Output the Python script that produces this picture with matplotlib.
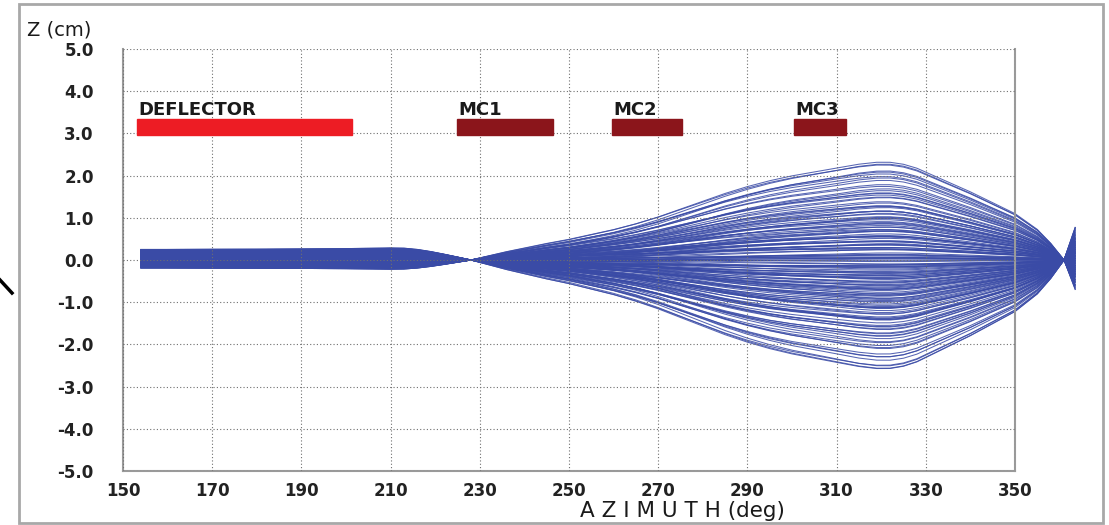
import numpy as np
import matplotlib.pyplot as plt
from matplotlib.patches import Rectangle

# azimuth stations (deg) where the orbit shapes are tabulated
azimuth = [154, 160, 170, 180, 190, 200, 205, 210, 213, 216, 219, 222, 225, 228,
           232, 236, 240, 245, 250, 255, 260, 265, 270, 275, 280, 285, 290, 295, 300,
           305, 310, 315, 319, 322, 325, 328, 330, 335, 340, 345, 350, 355, 358, 361, 363.5]

# cosine-like orbit: unit displacement inside the deflector, focused at 228 deg
cos_orbit = [1.00, 1.00, 1.02, 1.03, 1.05, 1.08, 1.11, 1.14, 1.12, 1.00, 0.80, 0.55, 0.28, 0.00,
             -0.08, -0.16, -0.23, -0.30, -0.37, -0.41, -0.45, -0.49, -0.52, -0.55, -0.57, -0.59, -0.60, -0.61, -0.61,
             -0.61, -0.61, -0.59, -0.58, -0.57, -0.55, -0.53, -0.51, -0.46, -0.41, -0.35, -0.28, -0.17, -0.08, 0.00, 0.10]

# sine-like orbit: zero through the deflector, unit at the 319 deg maximum
sin_orbit = [0, 0, 0, 0, 0, 0, 0, 0, 0, 0, 0, 0, 0, 0,
             0.04, 0.08, 0.115, 0.16, 0.20, 0.25, 0.30, 0.36, 0.43, 0.51, 0.59, 0.67, 0.74, 0.80, 0.85,
             0.89, 0.93, 0.97, 0.99, 0.99, 0.97, 0.93, 0.89, 0.79, 0.69, 0.58, 0.47, 0.31, 0.17, 0.00, -0.30]

# per-particle vertical offset in the deflector (cm)
z_defl = [0.12, -0.05, 0.21, -0.14, 0.03, 0.17, -0.10, 0.08, -0.18, 0.24,
          -0.02, 0.14, -0.12, 0.06, 0.19, -0.07, 0.01, -0.16, 0.10, 0.22,
          -0.09, 0.04, 0.16, -0.13, 0.11, -0.03, 0.20, -0.17, 0.07, -0.06,
          0.13, 0.25, -0.11, 0.02, -0.15, 0.18, 0.09, -0.08, 0.15, -0.01,
          0.23, -0.19, 0.05, -0.04, 0.12, 0.19, -0.14, 0.00, 0.08, -0.10,
          0.17, -0.06, 0.21, 0.03, -0.12, 0.11, -0.17, 0.14, -0.02, 0.06,
          -0.08, 0.24, 0.01, -0.13, 0.16, 0.09, -0.05, 0.20, -0.16, 0.04,
          0.10, -0.11, 0.18, -0.03, 0.07, -0.18, 0.13, 0.22, -0.07, 0.02,
          -0.15, 0.15, -0.01, 0.11, -0.09, 0.05, 0.19, -0.12, 0.08, -0.04,
          0.21, -0.14, 0.12, 0.00, -0.17, 0.16, 0.06, -0.06, 0.23, -0.10,
          0.03, 0.14, -0.19, 0.09, -0.02, 0.18, -0.11, 0.07, 0.25, -0.08,
          0.11, -0.15, 0.04, 0.20, -0.05, 0.13, -0.13, 0.01, 0.17, -0.16,
          0.08, -0.03, 0.22, -0.09, 0.15, 0.05, -0.12,
          -0.07, 0.19, -0.13, 0.06, 0.23, -0.16, 0.10, -0.01, 0.15, -0.11,
          0.02, 0.21, -0.18, 0.12, -0.06, 0.17, -0.09, 0.04, 0.24, -0.14,
          0.08, -0.03, 0.18, -0.12, 0.13, -0.17, 0.00, 0.20, -0.08, 0.05,
          0.16, -0.15, 0.09, -0.04, 0.22, -0.10, 0.11, -0.19, 0.03, 0.14]

# per-particle amplitude at the 319 deg maximum (cm)
z_amp = [2.36, 2.31, 2.25, 2.19, 2.12, 2.06, 2.00, 1.95, 1.89, 1.84,
         1.79, 1.74, 1.69, 1.64, 1.60, 1.55, 1.51, 1.46, 1.42, 1.38,
         1.34, 1.30, 1.26, 1.22, 1.18, 1.15, 1.11, 1.07, 1.04, 1.00,
         0.97, 0.93, 0.90, 0.87, 0.83, 0.80, 0.77, 0.74, 0.71, 0.68,
         0.65, 0.62, 0.59, 0.56, 0.53, 0.50, 0.47, 0.44, 0.41, 0.38,
         0.35, 0.32, 0.29, 0.26, 0.23, 0.20, 0.17, 0.14, 0.11, 0.08,
         0.05, 0.02, -0.01, -0.04, -0.07, -0.10, -0.13, -0.16, -0.19, -0.22,
         -0.25, -0.28, -0.31, -0.34, -0.37, -0.40, -0.43, -0.46, -0.49, -0.52,
         -0.55, -0.58, -0.61, -0.64, -0.67, -0.70, -0.73, -0.77, -0.80, -0.83,
         -0.87, -0.90, -0.94, -0.97, -1.01, -1.04, -1.08, -1.12, -1.16, -1.20,
         -1.24, -1.28, -1.32, -1.37, -1.41, -1.46, -1.50, -1.55, -1.60, -1.65,
         -1.70, -1.75, -1.80, -1.86, -1.91, -1.97, -2.03, -2.09, -2.15, -2.21,
         -2.27, -2.33, -2.39, -2.45, -2.51, -2.56, -2.60,
         1.25, 1.13, 1.02, 0.91, 0.82, 0.73, 0.63, 0.55, 0.46, 0.39,
         0.31, 0.24, 0.16, 0.09, 0.03, -0.03, -0.09, -0.15, -0.21, -0.27,
         -0.33, -0.39, -0.45, -0.51, -0.57, -0.63, -0.69, -0.75, -0.82, -0.89,
         -0.96, -1.03, -1.10, -1.18, -1.26, -1.35, -1.44, -1.53, -1.63, -1.73]

# ring elements along the orbit
elements = ["DEFLECTOR", "MC1", "MC2", "MC3"]
elem_start = [153.1, 224.9, 259.6, 300.4]
elem_end = [201.3, 246.4, 275.3, 312.1]
elem_colors = ["#ed1c24", "#8b151b", "#8b151b", "#8b151b"]

W, H = 1109, 525
plt.rcParams['font.family'] = ['DejaVu Sans']
fig = plt.figure(figsize=(W / 100, H / 100), dpi=100)
ax = fig.add_axes([123 / W, 1 - 471 / H, (1015 - 123) / W, (471 - 49) / H])

z = np.outer(z_defl, cos_orbit) + np.outer(z_amp, sin_orbit)
for row in z:
    ax.plot(azimuth, row, color="#3a4ba6", lw=0.75, alpha=0.85, clip_on=False, zorder=2)

for name, a0, a1, c in zip(elements, elem_start, elem_end, elem_colors):
    ax.add_patch(Rectangle((a0, 2.96), a1 - a0, 0.38, color=c, zorder=3))
    ax.text(a0 + 0.3, 3.44, name, fontsize=13, fontweight="bold", color="#1a1a1a",
            ha="left", va="baseline", zorder=4)

ax.set_xlim(150, 350)
ax.set_ylim(-5, 5)
ax.set_xticks(np.arange(150, 351, 20))
ax.set_yticks(np.arange(-5, 5.1, 1))
ax.set_yticklabels([f"{v:.1f}" for v in np.arange(-5, 5.1, 1)])
ax.tick_params(length=0, labelsize=12)
ax.tick_params(axis="y", pad=21)
ax.tick_params(axis="x", pad=8)
for lab in ax.get_xticklabels() + ax.get_yticklabels():
    lab.set_fontweight("bold")
    lab.set_color("#222222")

ax.set_axisbelow(False)
ax.grid(True, color="#6f6f6f", lw=0.8, ls=(0, (1, 2)))
ax.spines["top"].set_visible(False)
for s in ["left", "bottom", "right"]:
    ax.spines[s].set_color("#9a9a9a")
    ax.spines[s].set_linewidth(1.5)

fig.text(27 / W, 1 - 30 / H, "Z (cm)", fontsize=14, ha="left", va="center", color="#1a1a1a")
fig.text(682 / W, 1 - 511 / H, "A Z I M U T H (deg)", fontsize=15.5, ha="center", va="center",
         color="#1a1a1a")

# outer panel frame
fig.patches.append(Rectangle((19 / W, 1 - 523 / H), (1103 - 19) / W, (523 - 4) / H,
                             transform=fig.transFigure, fill=False, ec="#a8a8a8", lw=2))
fig.add_artist(plt.Line2D([0 / W, 12 / W], [1 - 280 / H, 1 - 293 / H],
                          transform=fig.transFigure, color="black", lw=2.5))

fig.savefig("out.png", dpi=100)
